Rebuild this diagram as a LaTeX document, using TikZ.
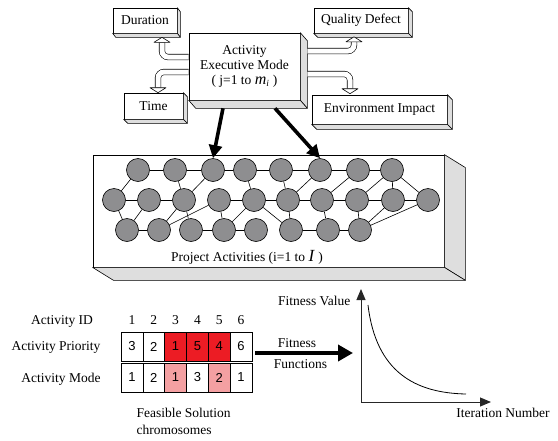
\documentclass[tikz,border=0pt]{standalone}
\usepackage{fontspec}
\setmainfont{Liberation Serif}
\newfontfamily\cellfont{Liberation Sans}
\usetikzlibrary{arrows.meta,calc}
\definecolor{redcell}{HTML}{EC1C24}
\definecolor{pinkcell}{HTML}{F4A0A2}
\definecolor{nodegray}{HTML}{8E8E90}
\definecolor{sidegray}{HTML}{DEDEDE}
\newcommand\sidefaces[3]{%
  \filldraw[side3d] (#1.north east) -- ++(#2,#3) -- ($(#1.south east)+(#2,#3)$) -- (#1.south east) -- cycle;
  \filldraw[side3d] (#1.south west) -- ($(#1.south west)+(#2,#3)$) -- ($(#1.south east)+(#2,#3)$) -- (#1.south east) -- cycle;}
\newcommand\headup[1]{\filldraw[headtri] ($(#1)+(-8,0)$) -- ($(#1)+(8,0)$) -- ($(#1)+(0,-5)$) -- cycle;}
\newcommand\headdown[1]{\filldraw[headtri] ($(#1)+(-8,0)$) -- ($(#1)+(8,0)$) -- ($(#1)+(0,5)$) -- cycle;}
\begin{document}
\begin{tikzpicture}[x=1pt,y=-1pt,
  every node/.style={font=\fontsize{13.5}{15}\selectfont},
  plainbox/.style={draw, fill=white, line width=0.6pt, inner sep=0pt, align=center},
  side3d/.style={draw, fill=sidegray, line width=0.6pt, line join=round},
  pipe/.style={draw=black, double=white, double distance=5pt, line width=0.6pt, rounded corners=6pt},
  headtri/.style={draw=black, fill=white, line width=0.6pt, line join=round},
  act/.style={circle, draw, fill=nodegray, line width=0.6pt, minimum size=23, inner sep=0pt},
  link/.style={line width=0.6pt},
  cell/.style={draw, line width=0.6pt, minimum width=21.8, minimum height=29, inner sep=0pt, font=\cellfont\fontsize{13}{15}\selectfont},
  bigarr/.style={line width=3.6pt, -{Triangle[length=13pt,width=13pt]}},
  fitarr/.style={line width=3.6pt, -{Triangle[length=15pt,width=16pt]}},
  axisline/.style={line width=1pt, draw=black!85, -{Triangle[length=11pt,width=9pt]}}
]
\useasboundingbox (0,0) rectangle (558,440);

% ---- top boxes ----
\node[plainbox, minimum width=64, minimum height=25] (dur) at (145,20.5) {Duration};
\sidefaces{dur}{3}{4}
\node[plainbox, minimum width=94, minimum height=25] (qd) at (361,20.5) {Quality Defect};
\sidefaces{qd}{4}{4}
\node[plainbox, minimum width=59, minimum height=26] (time) at (153.5,106) {Time};
\sidefaces{time}{4}{4}
\node[plainbox, minimum width=135, minimum height=29] (env) at (379.5,109.5) {Environment Impact};
\sidefaces{env}{5}{5}
\node[plainbox, minimum width=111, minimum height=67] (mode) at (244.5,66.5)
  {Activity\\Executive Mode\\( j=1 to {\fontsize{16}{15}\selectfont\textit{m}}\textsubscript{\textit{i}} )};
\sidefaces{mode}{7}{8}

% ---- hollow pipes ----
\coordinate (dh) at ($(dur.south)+(17,9)$);
\coordinate (th) at ($(time.north)+(4.5,-5)$);
\coordinate (qh) at ($(qd.south)+(-7,8.5)$);
\coordinate (eh) at ($(env.north)+(-29.5,-6)$);
\draw[pipe] ($(mode.west)+(0,-9.5)$) -| (dh);
\draw[pipe] ($(mode.west)+(0,5.5)$) -| (th);
\draw[pipe] ($(mode.east)+(7,-15.5)$) -| (qh);
\draw[pipe] ($(mode.east)+(7,7.5)$) -| (eh);
\headup{dh}
\headdown{th}
\headup{qh}
\headdown{eh}

% ---- network box ----
\node[draw, fill=white, line width=0.8pt, minimum width=351, minimum height=112, inner sep=0pt] (net) at (268.5,211) {};
\sidefaces{net}{21}{13}
\foreach \x [count=\i] in {138,175,213,245,281,320,358,392}
  \node[act] (a\i) at (\x,170) {};
\foreach \x [count=\i] in {114,149,184,219,254,288,322,357,393,428}
  \node[act] (b\i) at (\x,200) {};
\foreach \x [count=\i] in {127,159,191,224,256,291,328,360}
  \node[act] (c\i) at (\x,230) {};
\foreach \u/\v in {a1/a2,a2/a3,a3/a4,a4/a5,a5/a6,a6/a7,a7/a8,
  b1/b2,b2/b3,b4/b5,b5/b6,b6/b7,b7/b8,b8/b9,b9/b10,
  c1/c2,c3/c4,c4/c5,c6/c7,c7/c8,
  a1/b1,b1/c1,b2/c1,a2/b3,a3/b3,b3/c2,b3/c3,c2/b4,a4/b5,b4/c4,b5/c4,b5/c6,
  a5/b6,a6/b6,b6/c6,a7/b7,b7/c7,a8/b8,a8/b9,b8/c8,b9/c8,a8/b10,b10/c8}
  \draw[link] (\u) -- (\v);
\node (netlbl) at (247,257) {Project Activities (i=1 to \textit{\fontsize{17}{15}\selectfont I} )};

% ---- thick arrows ----
\draw[bigarr] ($(mode.south)+(-21.5,8)$) -- (a3.north);
\draw[bigarr] ($(mode.south)+(30.5,8)$) -- (a6.north);

% ---- chromosome ----
\node (lid) at (62,321) {Activity ID};
\node (lpr) at (56,347) {Activity Priority};
\node (lmo) at (61,379) {Activity Mode};
\foreach \x [count=\i] in {131.9,153.8,175.6,197.4,219.3,241.1}
  \node (h\i) at (\x,320.5) {\i};
\node[cell, fill=white]    (p1) at (131.9,346.5) {3};
\node[cell, fill=white]    (p2) at (153.8,346.5) {2};
\node[cell, fill=redcell]  (p3) at (175.6,346.5) {1};
\node[cell, fill=redcell]  (p4) at (197.4,346.5) {5};
\node[cell, fill=redcell]  (p5) at (219.3,346.5) {4};
\node[cell, fill=white]    (p6) at (241.1,346.5) {6};
\node[cell, fill=white]    (m1) at (131.9,377.5) {1};
\node[cell, fill=white]    (m2) at (153.8,377.5) {2};
\node[cell, fill=pinkcell] (m3) at (175.6,377.5) {1};
\node[cell, fill=white]    (m4) at (197.4,377.5) {3};
\node[cell, fill=pinkcell] (m5) at (219.3,377.5) {2};
\node[cell, fill=white]    (m6) at (241.1,377.5) {1};
\node[align=left, anchor=west, font=\fontsize{13.5}{17}\selectfont] (feas) at (133,421.5) {Feasible Solution\\chromosomes};

% ---- fitness arrow ----
\coordinate (fx) at (353,353);
\draw[fitarr] ($(p6.east)+(3,6.5)$) -- (fx);
\node (ftop) at (297,343) {Fitness};
\node (fbot) at (300.5,364) {Functions};

% ---- graph ----
\coordinate (orig) at (361,402);
\coordinate (ytop) at (361,289);
\coordinate (xend) at (491,402);
\draw[axisline] (orig) -- (ytop);
\draw[axisline] (orig) -- (xend);
\node[anchor=east] (fval) at (354,301) {Fitness Value};
\node (iter) at (503,413) {Iteration Number};
\coordinate (cs) at (368,305);
\coordinate (ce) at (466,394);
\draw[line width=0.8pt] (cs) .. controls (376,372) and (415,393) .. (ce);
\end{tikzpicture}
\end{document}
